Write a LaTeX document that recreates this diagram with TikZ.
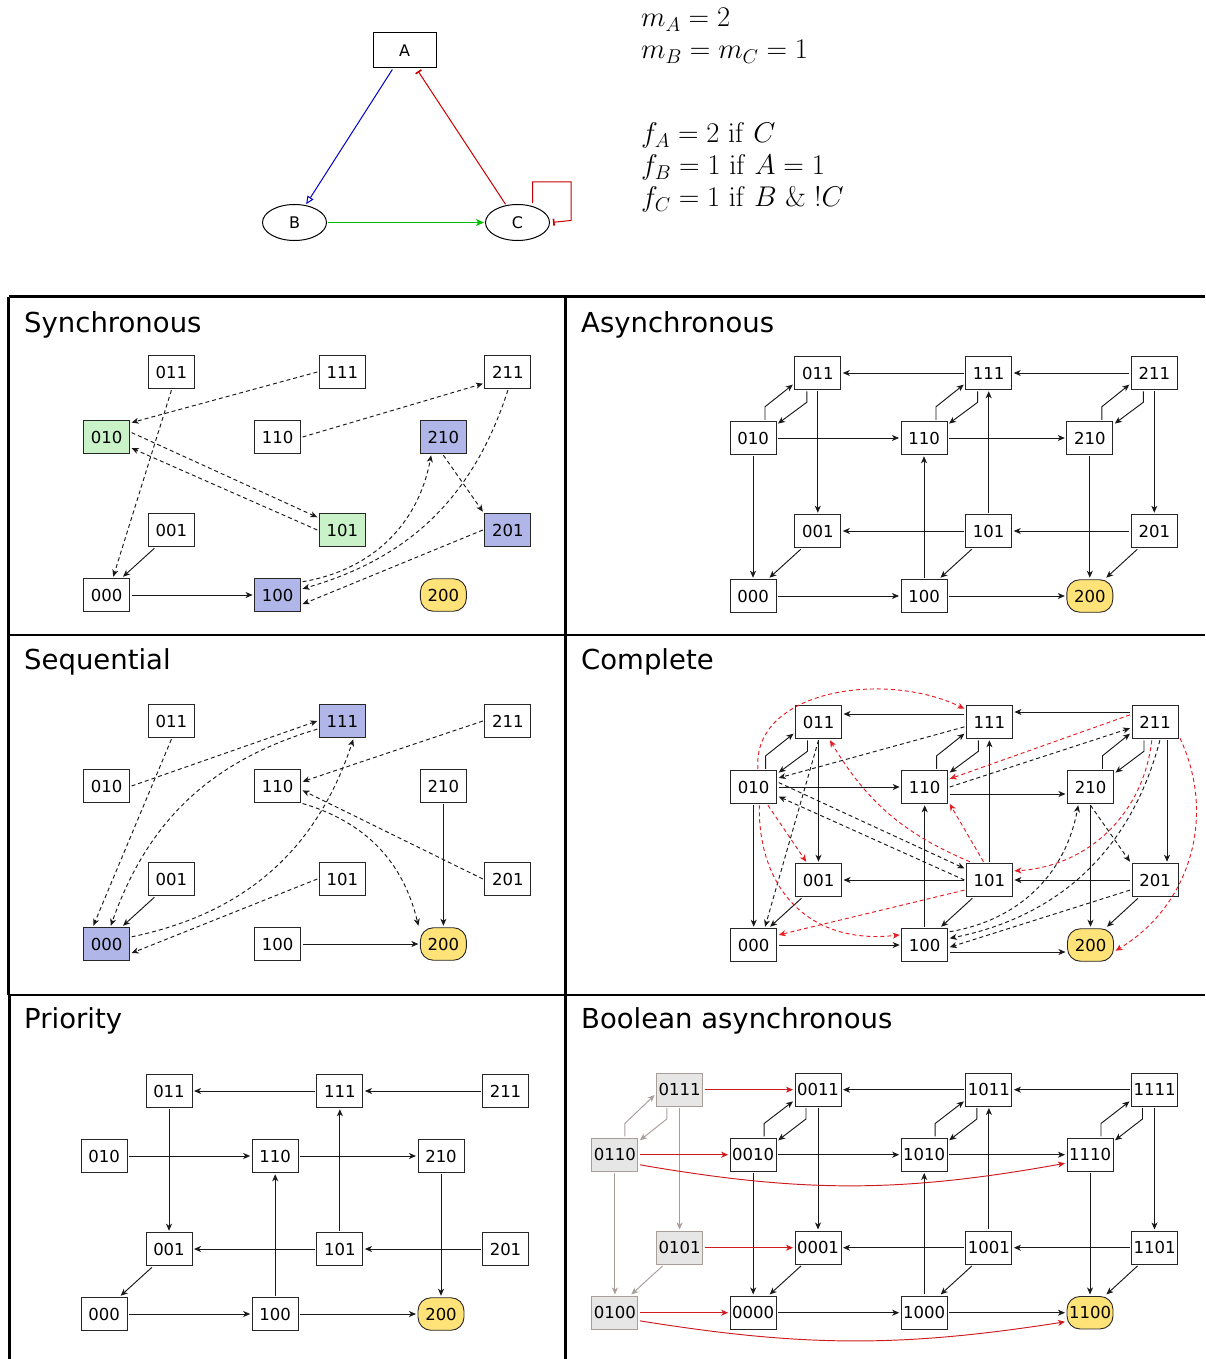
\RequirePackage{fix-cm}
\documentclass[tikz,border=0pt]{standalone}
\usepackage[no-math]{fontspec}
\usepackage{xcolor}
\usepackage{tikz}
\usetikzlibrary{arrows.meta,shapes.geometric}
\newfontfamily\dejavu{DejaVu Sans}
\definecolor{mintfill}{RGB}{201,242,201}
\definecolor{lavfill}{RGB}{176,182,232}
\definecolor{goldfill}{RGB}{255,226,120}
\definecolor{ghostfill}{RGB}{230,230,230}
\definecolor{taupe}{RGB}{168,158,156}
\definecolor{hotred}{RGB}{228,30,36}
\definecolor{regblue}{RGB}{0,0,200}
\definecolor{reggreen}{RGB}{0,190,0}
\definecolor{regred}{RGB}{200,0,0}
\tikzset{
  state/.style={draw=black!85, line width=0.9pt, minimum width=46pt, minimum height=32.5pt,
    inner sep=1pt, outer sep=2pt, font=\dejavu\fontsize{16.5}{18}\selectfont},
  plain/.style={fill=white},
  mint/.style={fill=mintfill},
  lav/.style={fill=lavfill},
  goal/.style={fill=goldfill, rounded corners=13pt},
  ghost/.style={fill=ghostfill, draw=taupe},
  trans/.style={-{Stealth[length=7pt,width=6pt,inset=2pt]}, line width=0.95pt, draw=black!90},
  dtrans/.style={trans, dash pattern=on 4pt off 3pt},
  rtrans/.style={dtrans, draw=hotred},
  rflip/.style={trans, draw=hotred!90!black},
  gflip/.style={trans, draw=taupe},
  panel/.style={line width=2.2pt},
  ptitle/.style={anchor=base west, inner sep=0pt, font=\dejavu\fontsize{27.5}{30}\selectfont},
  eqn/.style={anchor=base west, inner sep=0pt, font=\fontsize{28.5}{34}\selectfont},
  regbox/.style={draw=black, line width=1pt, minimum width=63pt, minimum height=35pt,
    inner sep=1pt, outer sep=1.5pt, font=\dejavu\fontsize{16}{18}\selectfont},
  regell/.style={regbox, ellipse, minimum width=64pt, minimum height=36pt},
  actb/.style={-{Triangle[open,length=8pt,width=7pt]}, line width=1pt, draw=regblue},
  actg/.style={-{Stealth[length=8pt,width=7pt,inset=2pt]}, line width=1pt, draw=reggreen},
  inhib/.style={-{Bar[width=7pt,line width=1.6pt]}, line width=1pt, draw=regred, shorten >=2pt},
}
% one state per entry: label/x/y/style, names are prefix+label
\newcommand{\stategrid}[2]{%
  \foreach \lbl/\cx/\cy/\sty in {#2}
    \node[state,\sty] (#1\lbl) at (\cx,\cy) {\lbl};%
}

\begin{document}
\begin{tikzpicture}[x=1pt, y=-1pt]
\useasboundingbox (0,0) rectangle (1205,1359);

% regulatory graph
\node[regbox] (gA) at (404.5,50.5) {A};
\node[regell] (gB) at (294.5,222.5) {B};
\node[regell] (gC) at (517.5,222.5) {C};
\draw[actb] (gA) -- (gB);
\draw[actg] (gB) -- (gC);
\draw[inhib] (gC) -- (gA);
\draw[inhib] ([xshift=15pt]gC.north) -- ++(0,-21) -- ++(38.5,0) -- ++(0,38.5) -- (gC.east);

\node[eqn] (eqmA) at (641,27) {$m_A = 2$};
\node[eqn] (eqmBC) at (641,59) {$m_B = m_C = 1$};
\node[eqn] (eqfA) at (641,143) {$f_A = 2\ \mathrm{if}\ C$};
\node[eqn] (eqfB) at (641,175) {$f_B = 1\ \mathrm{if}\ A = 1$};
\node[eqn] (eqfC) at (641,207) {$f_C = 1\ \mathrm{if}\ B\ \&\ !C$};

% panel frames
\draw[panel] (8.5,296.5) -- (1205,296.5);
\draw[panel] (8.5,635) -- (1205,635);
\draw[panel] (8.5,995) -- (1205,995);
\draw[panel] (8.5,296.5) -- (8.5,995);
\draw[panel] (9.5,995) -- (9.5,1359);
\draw[panel] (565.5,296.5) -- (565.5,1359);

% synchronous
\node[ptitle] (tsync) at (24,332) {Synchronous};
\begin{scope}[shift={(106.6,372)}]
  \stategrid{s}{011/64.8/0/plain, 111/235.7/0/plain, 211/401.3/0/plain,
    010/0/65/mint, 110/171/65/plain, 210/336.8/65/lav,
    001/64.8/158/plain, 101/235.7/158/mint, 201/401.3/158/lav,
    000/0/223/plain, 100/171/223/lav, 200/336.8/223/goal}
\end{scope}
\draw[dtrans] (s111.west) -- (s010.30);
\draw[dtrans] (s011.south) -- (s000.70);
\draw[dtrans] (s110.east) -- (s211.205);
\draw[dtrans] (s010.10) -- (s101.153);
\draw[dtrans] (s101.west) -- (s010.336);
\draw[dtrans] (s210.south) -- (s201.north west);
\draw[dtrans] (s211.south) to[bend left=28] (s100.14);
\draw[dtrans] (s100.28) to[bend right=35] (s210.236);
\draw[dtrans] (s201.west) -- (s100.340);
\draw[trans] (s001.227) -- (s000.48);
\draw[trans] (s000.east) -- (s100.west);

% asynchronous
\node[ptitle] (tasync) at (581,332) {Asynchronous};
\begin{scope}[shift={(753,373)}]
  \stategrid{a}{011/64.8/0/plain, 111/235.7/0/plain, 211/401.3/0/plain,
    010/0/65/plain, 110/171/65/plain, 210/336.8/65/plain,
    001/64.8/158/plain, 101/235.7/158/plain, 201/401.3/158/plain,
    000/0/223/plain, 100/171/223/plain, 200/336.8/223/goal}
\end{scope}
\foreach \src/\dst in {111/011, 211/111, 101/001, 201/101}
  \draw[trans] (a\src.west) -- (a\dst.east);
\foreach \src/\dst in {010/110, 110/210, 000/100, 100/200}
  \draw[trans] (a\src.east) -- (a\dst.west);
\foreach \src/\dst in {011/001, 010/000, 210/200, 211/201}
  \draw[trans] (a\src.south) -- (a\dst.north);
\foreach \src/\dst in {100/110, 101/111}
  \draw[trans] (a\src.north) -- (a\dst.south);
\foreach \src/\dst in {001/000, 101/100, 201/200}
  \draw[trans] (a\src.227) -- (a\dst.48);
\foreach \lo/\hi in {010/011, 110/111, 210/211}{
  \draw[trans] ([xshift=12pt]a\lo.north) -- ++(0,-13) -- (a\hi.205);
  \draw[trans] ([xshift=-11pt]a\hi.south) -- ++(0,11) -- (a\lo.30);
}

% sequential
\node[ptitle] (tseq) at (24,669) {Sequential};
\begin{scope}[shift={(106.6,721)}]
  \stategrid{q}{011/64.8/0/plain, 111/235.7/0/lav, 211/401.3/0/plain,
    010/0/65/plain, 110/171/65/plain, 210/336.8/65/plain,
    001/64.8/158/plain, 101/235.7/158/plain, 201/401.3/158/plain,
    000/0/223/lav, 100/171/223/plain, 200/336.8/223/goal}
\end{scope}
\draw[dtrans] (q010.east) -- (q111.west);
\draw[dtrans] (q111.198) to[bend right=27] (q000.77);
\draw[dtrans] (q011.south) -- (q000.126);
\draw[trans] (q001.227) -- (q000.48);
\draw[dtrans] (q000.16) to[bend right=30] (q111.301);
\draw[dtrans] (q101.west) -- (q000.340);
\draw[dtrans] (q211.west) -- (q110.10);
\draw[dtrans] (q201.west) -- (q110.350);
\draw[dtrans] (q110.325) to[bend left=30] (q200.north west);
\draw[trans] (q210.south) -- (q200.north);
\draw[trans] (q100.east) -- (q200.west);

% complete
\node[ptitle] (tcomp) at (581,669) {Complete};
\begin{scope}[shift={(753.7,722)}]
  \stategrid{c}{011/64.8/0/plain, 111/235.7/0/plain, 211/401.3/0/plain,
    010/0/65/plain, 110/171/65/plain, 210/336.8/65/plain,
    001/64.8/158/plain, 101/235.7/158/plain, 201/401.3/158/plain,
    000/0/223/plain, 100/171/223/plain, 200/336.8/223/goal}
\end{scope}
\draw[trans] ([yshift=8pt]c111.west) -- ([yshift=8pt]c011.east);
\draw[trans] ([yshift=10pt]c211.west) -- ([yshift=10pt]c111.east);
\draw[trans] (c010.east) -- (c110.west);
\draw[trans] ([yshift=-7pt]c110.east) -- ([yshift=-7pt]c210.west);
\foreach \src/\dst in {101/001, 201/101}
  \draw[trans] (c\src.west) -- (c\dst.east);
\draw[trans] (c000.east) -- (c100.west);
\draw[trans] ([yshift=-7pt]c100.east) -- ([yshift=-7pt]c200.west);
\foreach \src/\dst in {011/001, 010/000, 210/200}
  \draw[trans] (c\src.south) -- (c\dst.north);
\draw[trans] ([xshift=12pt]c211.south) -- ([xshift=12pt]c201.north);
\foreach \src/\dst in {100/110, 101/111}
  \draw[trans] (c\src.north) -- (c\dst.south);
\foreach \src/\dst in {001/000, 101/100, 201/200}
  \draw[trans] (c\src.227) -- (c\dst.48);
\foreach \lo/\hi in {010/011, 110/111, 210/211}{
  \draw[trans] ([xshift=12pt]c\lo.north) -- ++(0,-13) -- (c\hi.205);
  \draw[trans] ([xshift=-11pt]c\hi.south) -- ++(0,11) -- (c\lo.30);
}
\draw[dtrans] (c111.191) -- (c010.20);
\draw[dtrans] (c011.south) -- (c000.58);
\draw[dtrans] (c110.east) -- (c211.194);
\draw[dtrans] (c010.10) -- (c101.155);
\draw[dtrans] (c101.west) -- (c010.339);
\draw[dtrans] (c210.south) -- (c201.north west);
\draw[dtrans] (c211.285) to[bend left=32] (c100.15);
\draw[dtrans] (c100.28) to[bend right=35] (c210.236);
\draw[dtrans] (c201.202) -- (c100.355);
\draw[rtrans] (c010.77) .. controls (752,690) and (885,670) .. (c111.152);
\draw[rtrans] (c010.308) -- (c001.124);
\draw[rtrans] (c010.287) .. controls (758,890) and (810,945) .. (c100.158);
\draw[rtrans] (c101.137) to[bend left=18] (c011.302);
\draw[rtrans] (c101.108) -- (c110.326);
\draw[rtrans] (c211.164) -- (c110.18);
\draw[rtrans] (c211.260) to[bend left=40] (c101.20);
\draw[rtrans] (c211.327) to[bend left=42] (c200.347);
\draw[rtrans] (c101.202) -- (c000.22);

% priority
\node[ptitle] (tprio) at (24,1028) {Priority};
\begin{scope}[shift={(104.2,1091)}]
  \stategrid{p}{011/64.8/0/plain, 111/235.7/0/plain, 211/401.3/0/plain,
    010/0/65/plain, 110/171/65/plain, 210/336.8/65/plain,
    001/64.8/158/plain, 101/235.7/158/plain, 201/401.3/158/plain,
    000/0/223/plain, 100/171/223/plain, 200/336.8/223/goal}
\end{scope}
\foreach \src/\dst in {111/011, 211/111, 101/001, 201/101}
  \draw[trans] (p\src.west) -- (p\dst.east);
\foreach \src/\dst in {010/110, 110/210, 000/100, 100/200}
  \draw[trans] (p\src.east) -- (p\dst.west);
\foreach \src/\dst in {011/001, 210/200}
  \draw[trans] (p\src.south) -- (p\dst.north);
\foreach \src/\dst in {100/110, 101/111}
  \draw[trans] (p\src.north) -- (p\dst.south);
\draw[trans] (p001.227) -- (p000.48);

% boolean asynchronous
\node[ptitle] (tbool) at (581,1028) {Boolean asynchronous};
\begin{scope}[shift={(753.2,1089.7)}]
  \stategrid{b}{0111/-73.6/0/ghost, 0011/64.8/0/plain, 1011/235.7/0/plain, 1111/401.3/0/plain,
    0110/-138.3/65/ghost, 0010/0/65/plain, 1010/171/65/plain, 1110/336.8/65/plain,
    0101/-73.6/158/ghost, 0001/64.8/158/plain, 1001/235.7/158/plain, 1101/401.3/158/plain,
    0100/-138.3/223/ghost, 0000/0/223/plain, 1000/171/223/plain, 1100/336.8/223/goal}
\end{scope}
\foreach \src/\dst in {1011/0011, 1111/1011, 1001/0001, 1101/1001}
  \draw[trans] (b\src.west) -- (b\dst.east);
\foreach \src/\dst in {0010/1010, 1010/1110, 0000/1000, 1000/1100}
  \draw[trans] (b\src.east) -- (b\dst.west);
\foreach \src/\dst in {0011/0001, 0010/0000, 1110/1100, 1111/1101}
  \draw[trans] (b\src.south) -- (b\dst.north);
\foreach \src/\dst in {1000/1010, 1001/1011}
  \draw[trans] (b\src.north) -- (b\dst.south);
\foreach \src/\dst in {0001/0000, 1001/1000, 1101/1100}
  \draw[trans] (b\src.227) -- (b\dst.48);
\foreach \lo/\hi in {0010/0011, 1010/1011, 1110/1111}{
  \draw[trans] ([xshift=11pt]b\lo.north) -- ++(0,-13) -- (b\hi.205);
  \draw[trans] ([xshift=-12pt]b\hi.south) -- ++(0,11) -- (b\lo.30);
}
\draw[gflip] ([xshift=10pt]b0110.north) -- ++(0,-13) -- (b0111.192);
\draw[gflip] ([xshift=-12.7pt]b0111.south) -- ++(0,11) -- (b0110.30);
\draw[gflip] (b0111.south) -- (b0101.north);
\draw[gflip] (b0110.south) -- (b0100.north);
\draw[gflip] (b0101.227) -- (b0100.48);
\foreach \src/\dst in {0111/0011, 0110/0010, 0101/0001, 0100/0000}
  \draw[rflip] (b\src.east) -- (b\dst.west);
\draw[rflip] (b0110.338) to[bend right=10] (b1110.199);
\draw[rflip] (b0100.342) to[bend right=9] (b1100.200);
\end{tikzpicture}
\end{document}
